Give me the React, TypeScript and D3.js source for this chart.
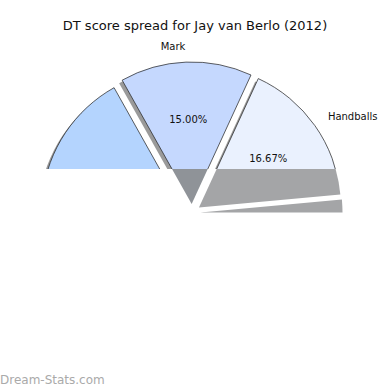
import * as d3 from 'd3'

// DT points per stat, in pie order (clockwise from lower left)
const categories = ['Kicks', 'Mark', 'Handballs', 'Behinds', 'Tackles', 'Goals', 'Free kicks']
const points = [18, 9, 10, 2, 12, 6, 3]
const sliceColors = ['#b4d4fe', '#c5d8fe', '#eaf1fe', '#dde7f8', '#cfdcf4', '#d9e5fb', '#e3ebfb']
const sideColors = ['none', '#8f9398', '#a4a5a7', '#a4a5a7', '#a4a5a7', '#a4a5a7', '#a4a5a7']
const title = 'DT score spread for Jay van Berlo (2012)'

const W = 390
const H = 390
const cx = 192
const cy = 212.5
const radius = 142
const explode = 8.5
const topCut = 169
const font = '"DejaVu Sans", sans-serif'

type Slice = d3.PieArcDatum<number> & { i: number }

export default function App(){
  const total = d3.sum(points)
  const start = -137.3 * Math.PI / 180
  const pie = d3.pie<number>().sort(null).value(d => d).startAngle(start).endAngle(start + 2 * Math.PI)
  const slices: Slice[] = pie(points).map((s, i) => ({ ...s, i }))
  const arc = d3.arc<d3.PieArcDatum<number>>().innerRadius(0).outerRadius(radius)

  const mid = (s: Slice) => (s.startAngle + s.endAngle) / 2
  const shift = (s: Slice) => {
    const a = mid(s)
    return [cx + explode * Math.sin(a), cy - explode * Math.cos(a)]
  }
  const along = (s: Slice, r: number) => {
    const [x, y] = shift(s)
    const a = mid(s)
    return [x + r * Math.sin(a), y - r * Math.cos(a)]
  }

  return (
    <svg width={W} height={H} style={{ position: 'absolute', left: 0, top: 0, background: '#fff' }}>
      <defs>
        <clipPath id="top"><rect x={0} y={0} width={W} height={topCut} /></clipPath>
        <clipPath id="band"><rect x={0} y={topCut} width={W} height={cy - topCut} /></clipPath>
      </defs>

      <text x={W / 2} y={30} textAnchor="middle" fontFamily={font} fontSize={13} fill="#111">{title}</text>

      {/* lower part of the slices, grey */}
      <g clipPath="url(#band)">
        {slices.filter(s => sideColors[s.i] !== 'none').map(s => {
          const [x, y] = shift(s)
          return <path key={s.i} d={arc(s) ?? ''} transform={`translate(${x},${y})`} fill={sideColors[s.i]} />
        })}
      </g>

      <g clipPath="url(#top)">
        {slices.map(s => {
          const [x, y] = shift(s)
          return <path key={'sh' + s.i} d={arc(s) ?? ''} transform={`translate(${x - 3},${y + 3})`} fill="#9a9a9a" />
        })}
        {slices.map(s => {
          const [x, y] = shift(s)
          return <path key={s.i} d={arc(s) ?? ''} transform={`translate(${x},${y})`}
            fill={sliceColors[s.i]} stroke="#222" strokeOpacity={0.8} strokeWidth={0.9} strokeLinejoin="round" />
        })}
        {slices.map(s => {
          const [px, py] = along(s, 85)
          const [lx, ly] = along(s, 158)
          const right = Math.sin(mid(s)) >= 0
          const name = categories[s.i]
          const x = right ? Math.min(lx, W - 6.5 * name.length) : Math.max(lx, 6.5 * name.length)
          return (
            <g key={'t' + s.i} fontFamily={font} fontSize={10} fill="#111">
              <text x={px} y={py} textAnchor="middle" dy="0.35em">{(s.data / total * 100).toFixed(2)}%</text>
              <text x={x} y={ly} textAnchor={right ? 'start' : 'end'} dy="0.35em">{name}</text>
            </g>
          )
        })}
      </g>

      <text x={0} y={384} fontFamily={font} fontSize={12} fill="#aaa">Dream-Stats.com</text>
    </svg>
  )
}
